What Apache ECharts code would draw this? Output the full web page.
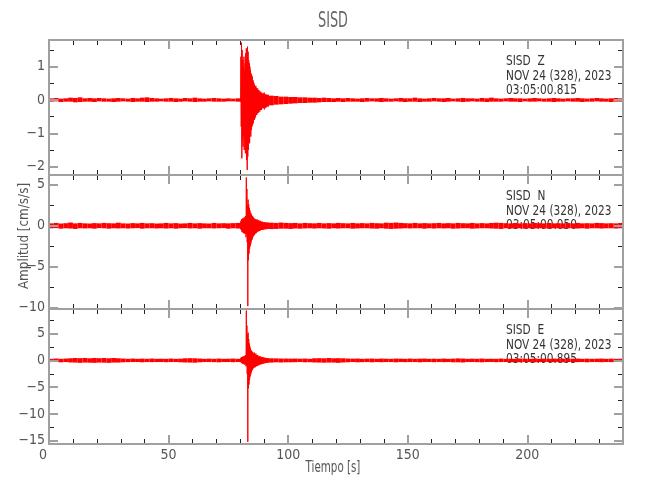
<!DOCTYPE html>
<html><head><meta charset="utf-8">
<script src="https://cdn.jsdelivr.net/npm/echarts@6/dist/echarts.min.js"></script>
<style>html,body{margin:0;padding:0;background:#fff}#c{width:650px;height:500px}</style>
</head><body><div id="c"></div>
<script>
// ---- DATA (pairs are [max, min] per time bin) ----
const title = 'SISD';
const xLabel = 'Tiempo [s]';
const yLabel = 'Amplitud [cm/s/s]';
const xTickLabels = [0, 50, 100, 150, 200];
const stationLines = {
  Z: ['SISD  Z', 'NOV 24 (328), 2023', '03:05:00.815'],
  N: ['SISD  N', 'NOV 24 (328), 2023', '03:05:00.050'],
  E: ['SISD  E', 'NOV 24 (328), 2023', '03:05:00.895']
};
// time sampling of the three segments (s)
const preStart = 0, preStep = 2;
const evtStart = 80, evtStep = 0.25;
const postStart = 92, postStep = 2;

const zPre = [[.05,-.05],[.06,-.04],[.04,-.06],[.05,-.05],[.07,-.05],[.06,-.07],[.08,-.06],[.05,-.05],[.06,-.05],[.05,-.06],
[.06,-.04],[.05,-.05],[.04,-.05],[.05,-.06],[.06,-.05],[.05,-.04],[.04,-.05],[.06,-.06],[.05,-.05],[.07,-.05],
[.08,-.06],[.06,-.05],[.05,-.05],[.04,-.04],[.05,-.05],[.06,-.05],[.05,-.06],[.04,-.05],[.06,-.04],[.05,-.05],
[.07,-.06],[.05,-.05],[.04,-.05],[.05,-.04],[.06,-.05],[.05,-.05],[.04,-.05],[.05,-.04],[.04,-.04],[.05,-.05]];
const zEvt = [[.06,-.06],[1.3,-.8],[1.72,-1.75],[1.5,-1.2],[1.2,-1.4],[1.0,-1.1],[1.3,-1.5],[.9,-1.2],
[1.1,-1.6],[1.4,-1.3],[1.55,-1.8],[1.2,-2.1],[1.6,-1.7],[1.45,-1.5],[1.2,-1.25],[1.1,-1.3],
[1.0,-1.0],[.9,-1.1],[.8,-.9],[.75,-.8],[.7,-.75],[.6,-.7],[.55,-.6],[.5,-.6],
[.45,-.55],[.4,-.5],[.42,-.45],[.35,-.45],[.3,-.4],[.35,-.35],[.28,-.38],[.3,-.3],
[.25,-.35],[.22,-.3],[.25,-.28],[.2,-.3],[.22,-.25],[.18,-.22],[.2,-.25],[.18,-.2],
[.22,-.28],[.18,-.24],[.15,-.2],[.17,-.22],[.15,-.2],[.14,-.18],[.16,-.2],[.14,-.16]];
const zPost = [[.13,-.16],[.12,-.14],[.1,-.13],[.1,-.12],[.09,-.11],[.09,-.1],[.08,-.09],[.08,-.09],[.07,-.08],[.07,-.08],
[.06,-.07],[.07,-.06],[.06,-.06],[.05,-.06],[.06,-.05],[.05,-.06],[.06,-.05],[.05,-.05],[.04,-.05],[.05,-.06],
[.06,-.05],[.05,-.04],[.05,-.05],[.06,-.06],[.05,-.05],[.04,-.05],[.05,-.04],[.06,-.05],[.05,-.06],[.05,-.05],
[.07,-.05],[.05,-.06],[.04,-.05],[.05,-.05],[.06,-.04],[.05,-.05],[.05,-.06],[.06,-.05],[.04,-.04],[.05,-.05],
[.06,-.06],[.05,-.05],[.05,-.04],[.04,-.05],[.06,-.05],[.05,-.06],[.07,-.05],[.05,-.05],[.04,-.05],[.05,-.04],
[.06,-.05],[.05,-.05],[.05,-.06],[.04,-.04],[.05,-.05],[.06,-.05],[.05,-.04],[.04,-.05],[.05,-.05],[.06,-.06],
[.05,-.05],[.04,-.05],[.05,-.04],[.05,-.05],[.06,-.05],[.05,-.06],[.04,-.05],[.05,-.05],[.06,-.04],[.05,-.05],
[.04,-.05],[.05,-.06],[.06,-.05],[.05,-.05]];

const nPre = [[.3,-.3],[.35,-.28],[.28,-.35],[.32,-.3],[.4,-.33],[.3,-.38],[.35,-.3],[.3,-.32],[.28,-.3],[.33,-.35],
[.3,-.28],[.35,-.3],[.32,-.35],[.3,-.3],[.38,-.32],[.3,-.3],[.28,-.33],[.33,-.3],[.3,-.28],[.35,-.35],
[.3,-.3],[.32,-.3],[.28,-.32],[.3,-.3],[.35,-.33],[.3,-.3],[.33,-.35],[.28,-.3],[.3,-.28],[.35,-.32],
[.3,-.3],[.33,-.35],[.3,-.3],[.28,-.3],[.35,-.32],[.3,-.3],[.32,-.28],[.3,-.35],[.33,-.3],[.35,-.33]];
const nEvt = [[.4,-.4],[.6,-.5],[.8,-.7],[.7,-.8],[.9,-.7],[.8,-.9],[1.0,-.8],[.9,-1.0],
[1.1,-.9],[1.2,-1.4],[5.9,-1.0],[4.5,-2.0],[2.5,-9.8],[3.2,-4.2],[2.6,-3.4],[2.2,-2.8],
[1.9,-2.5],[1.6,-2.2],[1.5,-1.9],[1.3,-1.7],[1.2,-1.5],[1.1,-1.3],[1.0,-1.2],[.9,-1.1],
[.85,-1.0],[.8,-.9],[.75,-.9],[.7,-.8],[.8,-.7],[.65,-.7],[.6,-.65],[.7,-.6],
[.55,-.6],[.5,-.55],[.6,-.5],[.5,-.5],[.45,-.5],[.5,-.45],[.45,-.45],[.4,-.45],
[.45,-.4],[.4,-.4],[.38,-.42],[.4,-.38],[.36,-.4],[.4,-.36],[.35,-.38],[.38,-.35]];
const nPost = [[.38,-.4],[.35,-.38],[.4,-.35],[.35,-.35],[.33,-.38],[.35,-.33],[.3,-.35],[.35,-.32],[.32,-.3],[.3,-.33],
[.35,-.3],[.3,-.32],[.33,-.35],[.3,-.3],[.35,-.33],[.32,-.3],[.3,-.3],[.35,-.35],[.3,-.32],[.33,-.3],
[.3,-.3],[.35,-.33],[.32,-.35],[.3,-.3],[.38,-.35],[.35,-.38],[.4,-.35],[.35,-.33],[.32,-.3],[.3,-.32],
[.35,-.3],[.3,-.3],[.33,-.35],[.3,-.3],[.32,-.33],[.35,-.3],[.3,-.32],[.33,-.3],[.3,-.35],[.35,-.33],
[.32,-.3],[.3,-.3],[.35,-.35],[.3,-.32],[.33,-.3],[.3,-.3],[.35,-.33],[.38,-.35],[.35,-.38],[.32,-.3],
[.3,-.33],[.35,-.3],[.3,-.3],[.33,-.35],[.3,-.3],[.35,-.32],[.32,-.3],[.3,-.33],[.35,-.35],[.3,-.3],
[.32,-.3],[.3,-.32],[.33,-.3],[.3,-.3],[.35,-.33],[.3,-.3],[.32,-.35],[.3,-.3],[.35,-.3],[.33,-.33],
[.3,-.3],[.32,-.3],[.3,-.33],[.35,-.3]];

const ePre = [[.3,-.3],[.35,-.3],[.3,-.35],[.35,-.3],[.4,-.38],[.45,-.4],[.42,-.45],[.45,-.4],[.4,-.42],[.45,-.45],
[.42,-.4],[.45,-.42],[.4,-.45],[.45,-.4],[.4,-.4],[.35,-.35],[.3,-.32],[.35,-.3],[.3,-.3],[.33,-.35],
[.3,-.3],[.35,-.32],[.3,-.3],[.32,-.3],[.3,-.33],[.35,-.3],[.3,-.3],[.33,-.35],[.4,-.38],[.42,-.4],
[.4,-.42],[.35,-.35],[.3,-.3],[.33,-.3],[.3,-.32],[.35,-.35],[.3,-.3],[.32,-.3],[.35,-.33],[.3,-.3]];
const eEvt = [[.3,-.3],[.5,-.4],[.6,-.5],[.5,-.6],[.7,-.5],[.6,-.7],[.8,-.6],[.7,-.8],
[.9,-.7],[1.0,-1.1],[9.3,-1.0],[6.5,-2.5],[4.8,-15.2],[5.2,-5.2],[4.0,-4.5],[3.2,-3.6],
[2.6,-3.0],[2.2,-2.6],[1.9,-2.2],[1.8,-1.9],[1.6,-1.7],[1.4,-1.5],[1.3,-1.4],[1.5,-1.2],
[1.2,-1.3],[1.1,-1.2],[1.3,-1.0],[1.0,-1.1],[.9,-1.0],[1.0,-.9],[.8,-.9],[.8,-.8],
[.7,-.8],[.8,-.7],[.65,-.7],[.6,-.7],[.65,-.6],[.55,-.6],[.6,-.55],[.5,-.55],
[.5,-.5],[.45,-.5],[.5,-.45],[.45,-.45],[.4,-.45],[.45,-.4],[.4,-.4],[.4,-.38]];
const ePost = [[.4,-.4],[.38,-.35],[.35,-.38],[.35,-.35],[.33,-.35],[.35,-.33],[.32,-.3],[.35,-.35],[.3,-.33],[.4,-.38],
[.42,-.4],[.4,-.42],[.45,-.4],[.4,-.4],[.42,-.45],[.4,-.38],[.35,-.35],[.33,-.3],[.35,-.35],[.3,-.32],
[.33,-.3],[.35,-.35],[.3,-.3],[.35,-.33],[.32,-.3],[.3,-.3],[.35,-.35],[.33,-.3],[.3,-.32],[.35,-.3],
[.3,-.3],[.33,-.35],[.35,-.3],[.3,-.3],[.32,-.33],[.3,-.3],[.35,-.32],[.3,-.3],[.33,-.35],[.38,-.35],
[.35,-.38],[.3,-.3],[.33,-.3],[.3,-.32],[.35,-.35],[.3,-.3],[.32,-.3],[.3,-.33],[.35,-.3],[.3,-.3],
[.33,-.35],[.3,-.3],[.35,-.33],[.32,-.3],[.3,-.3],[.35,-.35],[.3,-.32],[.33,-.3],[.3,-.3],[.35,-.33],
[.3,-.3],[.32,-.35],[.3,-.3],[.33,-.3],[.35,-.32],[.3,-.3],[.33,-.35],[.3,-.3],[.32,-.3],[.35,-.33],
[.3,-.3],[.33,-.32],[.3,-.3],[.32,-.3]];

// axis ranges
const xRange = [0, 240];
const zRange = [-2.25, 1.8], nRange = [-10.15, 6.2], eRange = [-15.6, 9.6];
const zStep = [1, 0.5], nStep = [5, 2.5], eStep = [5, 2.5];
const xStep = [50, 10];

// ---- build ----
// quiet segments: [t, dt, max, min] bins drawn as min-max bands
function bins(arr, t0, dt) { return arr.map((p, i) => [t0 + i * dt, dt, p[0], p[1]]); }
// event segment: trace alternating max/min
function zig(arr, t0, dt) {
  const out = [];
  arr.forEach((p, i) => { const t = t0 + i * dt; out.push([t, p[0]]); out.push([t + dt / 2, p[1]]); });
  return out;
}
const panels = [
  {key: 'Z', pre: zPre, evt: zEvt, post: zPost, range: zRange, step: zStep},
  {key: 'N', pre: nPre, evt: nEvt, post: nPost, range: nRange, step: nStep},
  {key: 'E', pre: ePre, evt: eEvt, post: ePost, range: eRange, step: eStep}
];

const FONT = "'DejaVu Sans Condensed','DejaVu Sans',sans-serif";
const AX = '#a0a0a0', TK = '#222', LB = '#555', RED = '#ff0000';
const gridTops = [40, 175, 309], gridH = [135, 134, 135];
const grids = [], xAxes = [], yAxes = [], series = [], graphics = [];

function isMult(v, m) { return Math.abs(v / m - Math.round(v / m)) < 1e-6; }

function bandItem(params, api) {
  const t = api.value(0), dt = api.value(1), hi = api.value(2), lo = api.value(3);
  const a = api.coord([t, hi]), b = api.coord([t + dt, lo]);
  return {type: 'rect', shape: {x: a[0], y: a[1], width: Math.max(b[0] - a[0], 1), height: Math.max(b[1] - a[1], 1)},
    style: {fill: RED}};
}

panels.forEach((p, g) => {
  grids.push({left: 49, right: 27, top: gridTops[g], height: gridH[g], containLabel: false});
  ['bottom', 'top'].forEach(pos => {
    const showLab = (g === 2 && pos === 'bottom');
    xAxes.push({gridIndex: g, type: 'value', position: pos, min: xRange[0], max: xRange[1],
      minInterval: xStep[0], maxInterval: xStep[0], z: 3,
      axisLine: {show: true, onZero: false, lineStyle: {color: AX, width: 2}},
      axisTick: {show: true, inside: true, length: 9, lineStyle: {color: AX, width: 2}},
      splitLine: {show: false},
      axisLabel: {show: showLab, color: LB, fontFamily: FONT, fontSize: 14, margin: 4,
        showMinLabel: true, showMaxLabel: false,
        formatter: v => (xTickLabels.indexOf(v) >= 0 ? (v === 0 ? '{z|0}' : String(v)) : ''),
        rich: {z: {color: LB, fontFamily: FONT, fontSize: 14, padding: [0, 12, 0, 0]}}}
    });
    xAxes.push({gridIndex: g, type: 'value', position: pos, min: xRange[0], max: xRange[1],
      minInterval: xStep[1], maxInterval: xStep[1], z: 1,
      axisLine: {show: false, onZero: false},
      axisTick: {show: true, inside: true, length: 5, lineStyle: {color: TK, width: 1}},
      splitLine: {show: false}, axisLabel: {show: false}
    });
  });
  ['left', 'right'].forEach(pos => {
    yAxes.push({gridIndex: g, type: 'value', position: pos, min: p.range[0], max: p.range[1],
      minInterval: p.step[0], maxInterval: p.step[0], z: 3,
      axisLine: {show: true, onZero: false, lineStyle: {color: AX, width: 2}},
      axisTick: {show: true, inside: true, length: 9, lineStyle: {color: AX, width: 2}},
      splitLine: {show: false},
      axisLabel: {show: pos === 'left', color: LB, fontFamily: FONT, fontSize: 14, margin: 4,
        showMinLabel: false, showMaxLabel: false,
        formatter: v => (isMult(v, p.step[0]) ? String(Math.round(v)).replace('-', '\u2212') : '')}
    });
    yAxes.push({gridIndex: g, type: 'value', position: pos, min: p.range[0], max: p.range[1],
      minInterval: p.step[1], maxInterval: p.step[1], z: 1,
      axisLine: {show: false, onZero: false},
      axisTick: {show: true, inside: true, length: 5, lineStyle: {color: TK, width: 1}},
      splitLine: {show: false}, axisLabel: {show: false}
    });
  });
  const common = {xAxisIndex: g * 4, yAxisIndex: g * 4, animation: false, silent: true, z: 2};
  series.push(Object.assign({type: 'custom', renderItem: bandItem, clip: false,
    encode: {x: 0, y: [2, 3]}, data: bins(p.pre, preStart, preStep).concat(bins(p.post, postStart, postStep))}, common));
  series.push(Object.assign({type: 'line', data: zig(p.evt, evtStart, evtStep),
    showSymbol: false, symbol: 'none', sampling: null, clip: false,
    lineStyle: {color: RED, width: 1}}, common));
  stationLines[p.key].forEach((txt, i) => {
    graphics.push({type: 'text', x: 506, y: gridTops[g] + 21.5 + i * 14.5, scaleX: 0.87, silent: true,
      style: {text: txt, x: 0, y: 0, fill: '#333', font: '13.5px ' + FONT, align: 'left', verticalAlign: 'middle'}});
  });
});

graphics.push({type: 'text', x: 333, y: 22, scaleX: 0.68, silent: true,
  style: {text: title, x: 0, y: 0, fill: '#666', font: '21px ' + FONT, align: 'center', verticalAlign: 'middle'}});
graphics.push({type: 'text', x: 333, y: 468, scaleX: 0.74, silent: true,
  style: {text: xLabel, x: 0, y: 0, fill: '#555', font: '15.5px ' + FONT, align: 'center', verticalAlign: 'middle'}});
graphics.push({type: 'text', x: 24, y: 236, rotation: Math.PI / 2, scaleX: 0.92, silent: true,
  style: {text: yLabel, x: 0, y: 0, fill: '#555', font: '14.5px ' + FONT, align: 'center', verticalAlign: 'middle'}});

const chart = echarts.init(document.getElementById('c'), null, {renderer: 'canvas'});
chart.setOption({animation: false, backgroundColor: '#fff', grid: grids, xAxis: xAxes, yAxis: yAxes,
  series: series, graphic: graphics});
</script></body></html>
